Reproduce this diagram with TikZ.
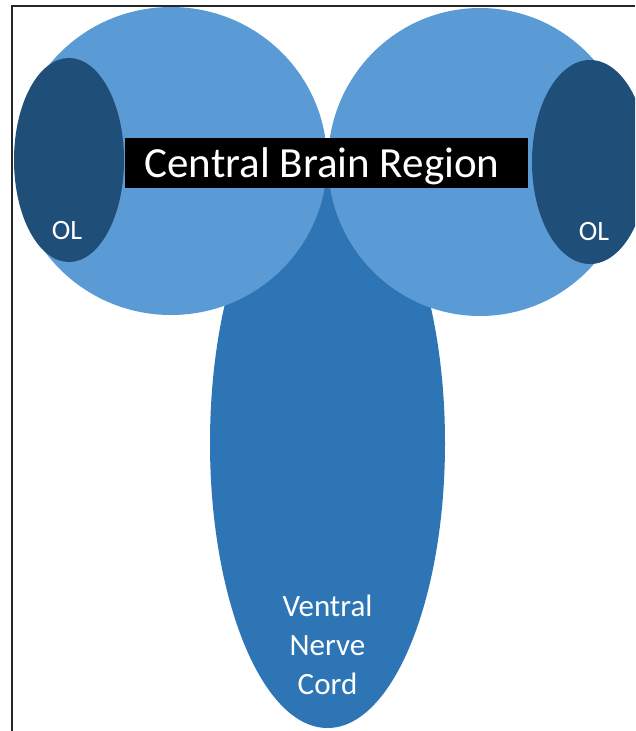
\documentclass[tikz,border=0pt]{standalone}
\usepackage{fontspec}
\setmainfont{Carlito}
\definecolor{lobe}{HTML}{5B9BD5}
\definecolor{cord}{HTML}{2E75B6}
\definecolor{optic}{HTML}{1F4E79}
\begin{document}
\begin{tikzpicture}[x=1pt,y=-1pt,
  lbl/.style={text=white, inner sep=0pt, font=\fontsize{28}{32}\selectfont},
  vnc/.style={text=white, inner sep=0pt, align=center, font=\fontsize{31}{39}\selectfont}]
\useasboundingbox (0,0) rectangle (635,731);
\begin{scope}
\clip (0,0) rectangle (635,731);
\fill[cord] (327.5,443) ellipse [x radius=117.5, y radius=285];
\fill[lobe] (171,161) ellipse [x radius=156, y radius=154];
\fill[lobe] (480,162) ellipse [x radius=152, y radius=154];
\fill[optic] (69,160) ellipse [x radius=55, y radius=102];
\fill[optic] (590,162) ellipse [x radius=58, y radius=102];
\end{scope}
\node[fill=black, minimum width=403pt, minimum height=50pt, inner sep=0pt] (cbr) at (326.5,163) {};
\node[text=white, inner sep=0pt, font=\fontsize{43}{48}\selectfont, anchor=base] (cbrt) at (322,177) {Central Brain Region};
\node[lbl] (oll) at (67,231) {OL};
\node[lbl] (olr) at (594,232) {OL};
\node[vnc] (vnc) at (327.5,645) {Ventral\\Nerve\\Cord};
\draw[line width=2pt, black!85] (12,731) -- (12,6) -- (635,6);
\end{tikzpicture}
\end{document}
